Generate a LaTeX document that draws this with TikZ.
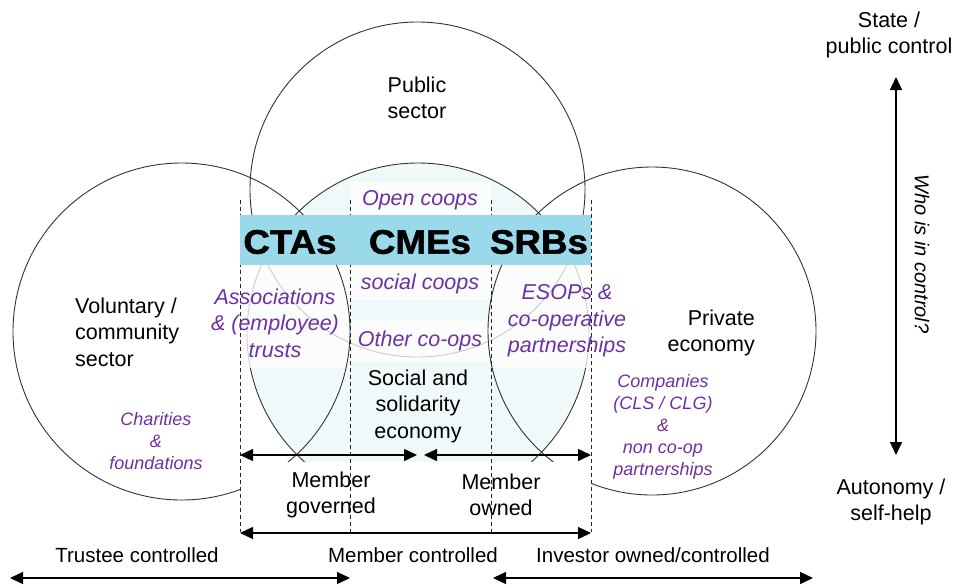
\documentclass[tikz,border=0pt]{standalone}
\usepackage{fontspec}
\setmainfont{Liberation Sans}
\newfontfamily\bandfont{Liberation Sans}[FakeStretch=1.08, FakeBold=1.6]
\usetikzlibrary{arrows.meta,positioning}
\tikzset{
  text_n/.style = {align=center, inner sep=0pt, text=black, font=\fontsize{21.5}{26.5}\selectfont},
  kind_n/.style = {text_n, text=my_purple, font=\fontsize{21.5}{26.5}\selectfont\itshape},
  small_n/.style = {text_n, text=my_purple, font=\fontsize{18}{22}\selectfont\itshape},
  axis_n/.style = {text_n, font=\fontsize{20.5}{24}\selectfont},
  band_n/.style = {inner sep=0pt, text=black, font=\fontsize{34}{34}\bandfont\bfseries},
  veil/.style = {fill=white, opacity=0.75, draw=none}
}
\definecolor{my_purple}{RGB}{112, 48, 160}
\definecolor{my_band}{RGB}{153, 217, 234}
\definecolor{my_sse}{RGB}{240, 249, 250}

\begin{document}
\begin{tikzpicture}[x=1pt, y=-1pt, >={Triangle[length=13pt,width=12pt]},
            sector/.style={draw=black!80, line width=0.9pt},
            guide/.style={draw=black!85, dash pattern=on 4pt off 3pt, line width=0.8pt},
            span/.style={<->, line width=1.4pt}]
  \useasboundingbox (0,0) rectangle (953,587);
  % the four sectors
  \fill[my_sse] (418,334) circle[radius=171];
  \draw[sector] (417.5,189.5) circle[radius=167.5];
  \draw[sector] (418,334) circle[radius=171];
  \fill[veil] (240,265) rectangle (350,368);
  \fill[veil] (350,182) rectangle (491,215);
  \fill[veil] (350,265) rectangle (491,300);
  \fill[veil] (350,320) rectangle (491,362);
  \fill[veil] (491,265) rectangle (591,368);
  \draw[sector] (181.5,331.5) circle[radius=168.5];
  \draw[sector] (652,331) circle[radius=164];
  \fill[white] (240,462) rectangle (591,530);
  % column guides
  \foreach \gx/\gn in {240/ga, 350/gb, 491/gc, 591/gd} {
    \coordinate (\gn_t) at (\gx,200);
    \coordinate (\gn_b) at (\gx,532);
    \draw[guide] (\gn_t) -- (\gn_b);
  }
  \fill[my_band] (240,215) rectangle (591,265);
  \node [band_n] (ctas) at (290,242) {CTAs};
  \node [band_n] (cmes) at (420,242) {CMEs};
  \node [band_n] (srbs) at (539,242) {SRBs};

  \node [text_n] (public) at (417,98) {Public\\sector};
  \node [text_n, align=left, anchor=west] (voluntary) at (75,332) {Voluntary /\\community\\sector};
  \node [text_n, align=right, anchor=east] (private) at (755,333) {Private\\economy};
  \node [text_n] (sse) at (418,406) {Social and\\solidarity\\economy};
  \node [small_n] (charities) at (156,441) {Charities\\\&\\foundations};
  \node [small_n] (companies) at (663,427) {Companies\\(CLS / CLG)\\\&\\non co-op\\partnerships};
  \node [kind_n] (assoc) at (275,323) {Associations\\\& (employee)\\trusts};
  \node [kind_n] (esops) at (567,321) {ESOPs \&\\co-operative\\partnerships};
  \node [kind_n] (open) at (420,200) {Open coops};
  \node [kind_n] (social) at (420,284) {social coops};
  \node [kind_n] (other) at (420,341) {Other co-ops};

  % member spans
  \coordinate (mg_w) at (240,455); \coordinate (mg_e) at (417,455);
  \coordinate (mo_w) at (424,455); \coordinate (mo_e) at (591,455);
  \coordinate (mc_w) at (240,533); \coordinate (mc_e) at (591,533);
  \draw[span] (mg_w) -- (mg_e);
  \draw[span] (mo_w) -- (mo_e);
  \draw[span] (mc_w) -- (mc_e);
  \node [text_n] (governed) at (331,495) {Member\\governed};
  \node [text_n] (owned) at (501,495) {Member\\owned};

  % who controls
  \node [axis_n] (trustee) at (137,555) {Trustee controlled};
  \node [axis_n] (member) at (413,555) {Member controlled};
  \node [axis_n] (investor) at (653,555) {Investor owned/controlled};
  \coordinate (tc_w) at (10,578); \coordinate (tc_e) at (350,578);
  \coordinate (io_w) at (493,578); \coordinate (io_e) at (813,578);
  \draw[span] (tc_w) -- (tc_e);
  \draw[span] (io_w) -- (io_e);

  \node [text_n] (state) at (889,35) {State /\\public control};
  \node [text_n] (autonomy) at (891,502) {Autonomy /\\self-help};
  \coordinate (ctl_n) at (896,77); \coordinate (ctl_s) at (896,455);
  \draw[span] (ctl_n) -- (ctl_s);
  \node [text_n, font=\fontsize{20}{24}\selectfont\itshape, rotate=-90] (who) at (922,254) {Who is in control?};
\end{tikzpicture}
\end{document}
